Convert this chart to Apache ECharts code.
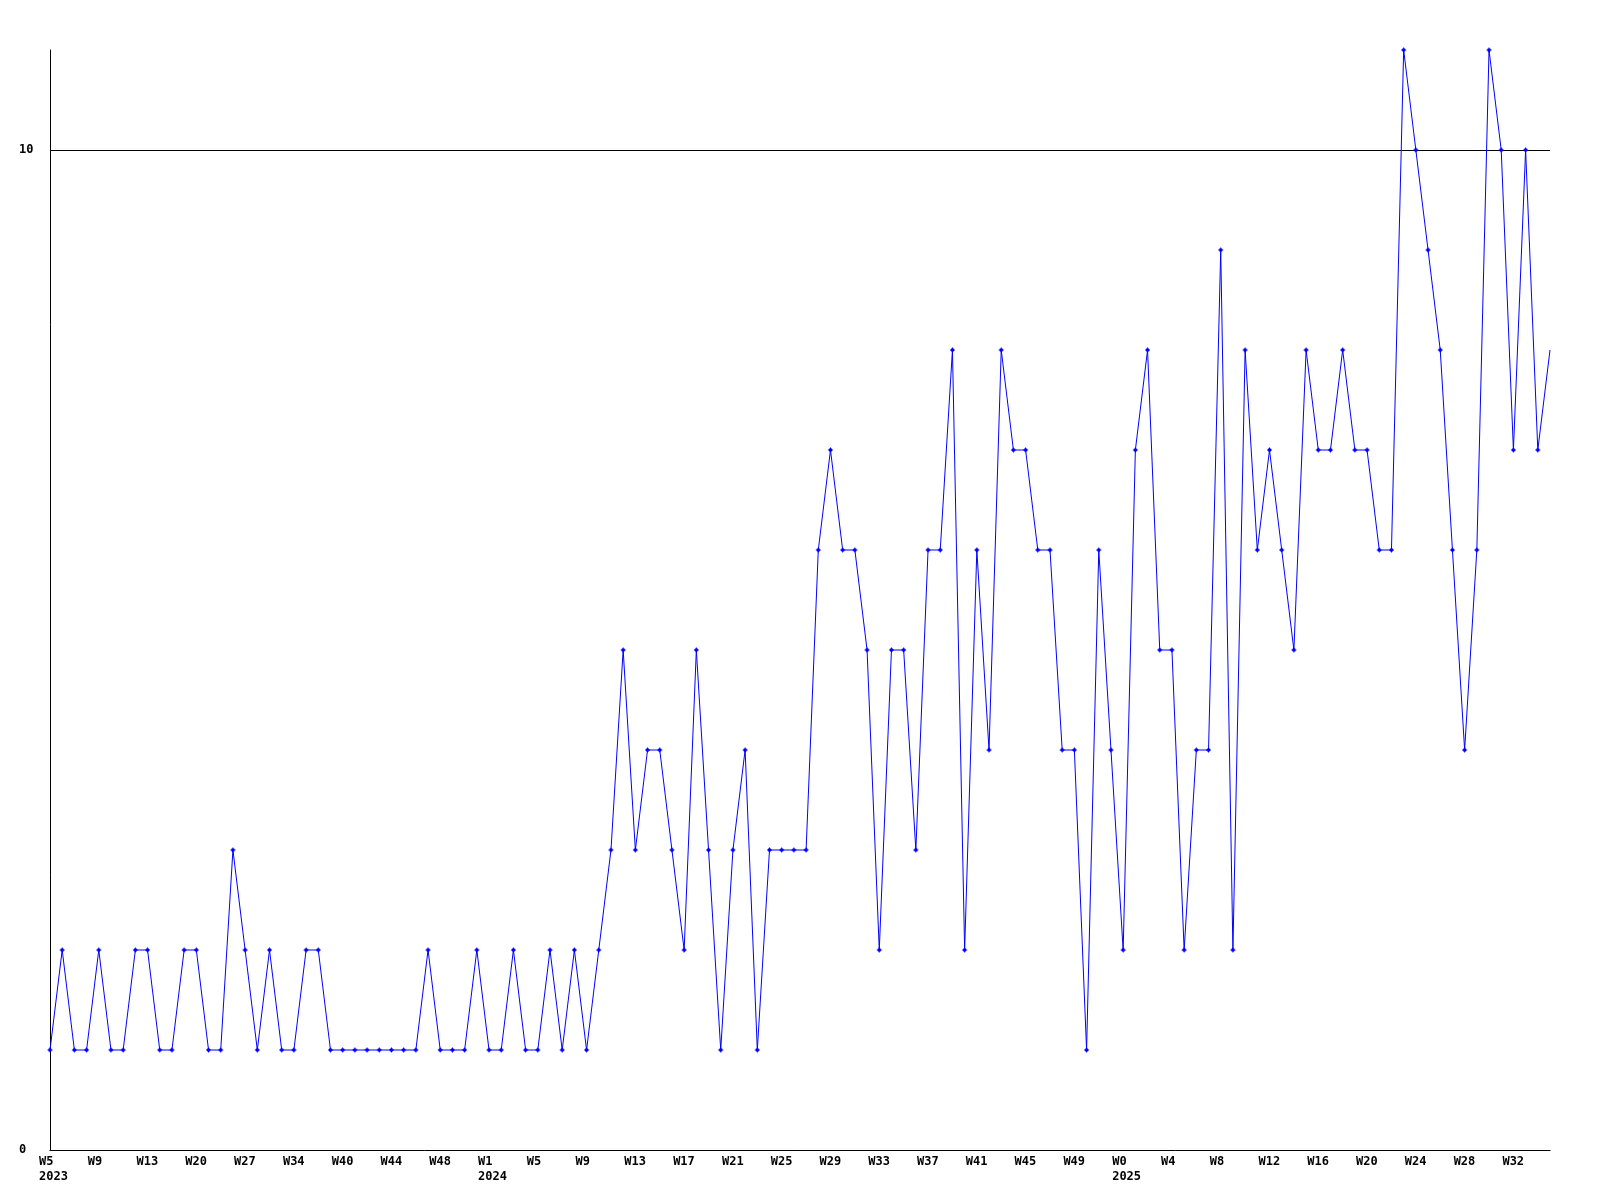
<!DOCTYPE html>
<html>
<head>
<meta charset="utf-8">
<script src="https://cdn.jsdelivr.net/npm/echarts@6/dist/echarts.min.js"></script>
<style>html,body{margin:0;padding:0;background:#fff;}#c{width:1600px;height:1200px;}</style>
</head>
<body>
<div id="c"></div>
<script>
const weeks = [
  'W5','W6','W7','W8','W9','W10','W11','W12','W13','W15','W17','W18','W20','W22','W24','W25',
  'W27','W29','W31','W32','W34','W36','W37','W39','W40','W41','W42','W43','W44','W45','W46','W47',
  'W48','W49','W50','W51',
  'W1','W2','W3','W4','W5','W6','W7','W8','W9','W10','W11','W12','W13','W14','W15','W16',
  'W17','W18','W19','W20','W21','W22','W23','W24','W25','W26','W27','W28','W29','W30','W31','W32',
  'W33','W34','W35','W36','W37','W38','W39','W40','W41','W42','W43','W44','W45','W46','W47','W48',
  'W49','W50','W51','W52',
  'W0','W1','W2','W3','W4','W5','W6','W7','W8','W9','W10','W11','W12','W13','W14','W15',
  'W16','W17','W18','W19','W20','W21','W22','W23','W24','W25','W26','W27','W28','W29','W30','W31',
  'W32','W33','W34','W35'
];
const yearIndex = [0, 36, 88];
const yearLabel = ['2023', '2024', '2025'];
const values = [
  1,2,1,1,2,1,1,2,2,1,
  1,2,2,1,1,3,2,1,2,1,
  1,2,2,1,1,1,1,1,1,1,
  1,2,1,1,1,2,1,1,2,1,
  1,2,1,2,1,2,3,5,3,4,
  4,3,2,5,3,1,3,4,1,3,
  3,3,3,6,7,6,6,5,2,5,
  5,3,6,6,8,2,6,4,8,7,
  7,6,6,4,4,1,6,4,2,7,
  8,5,5,2,4,4,9,2,8,6,
  7,6,5,8,7,7,8,7,7,6,
  6,11,10,9,8,6,4,6,11,10,
  7,10,7,8
];
const yTicks = [0, 10];

const keys = weeks.map((w, i) => i + '|' + w);
const plus = 'path://M2,0H3V1H4V2H5V3H4V4H3V5H2V4H1V3H0V2H1V1H2Z';
const font = '"DejaVu Sans Mono", monospace';

const chart = echarts.init(document.getElementById('c'), null, {renderer: 'canvas'});
chart.setOption({
  animation: false,
  backgroundColor: '#fff',
  grid: {left: 50, right: 50, top: 50, bottom: 50, containLabel: false},
  xAxis: {
    type: 'category',
    data: keys,
    boundaryGap: false,
    axisLine: {show: true, lineStyle: {color: '#000', width: 1}},
    axisTick: {show: false},
    splitLine: {show: false},
    axisLabel: {
      interval: 3,
      align: 'left',
      margin: 4,
      padding: [0, 0, 0, -11],
      color: '#000',
      fontFamily: font,
      fontWeight: 'bold',
      fontSize: 12,
      lineHeight: 15,
      formatter: (val, idx) => {
        const w = String(val).split('|')[1];
        const k = yearIndex.indexOf(idx);
        return k >= 0 ? w + '\n' + yearLabel[k] : w;
      }
    }
  },
  yAxis: {
    type: 'value',
    min: 0,
    max: 11,
    interval: 10,
    axisLine: {show: true, lineStyle: {color: '#000', width: 1}},
    axisTick: {show: false},
    splitLine: {show: false},
    axisLabel: {
      showMaxLabel: false,
      align: 'left',
      margin: 31,
      color: '#000',
      fontFamily: font,
      fontWeight: 'bold',
      fontSize: 12,
      formatter: v => (yTicks.indexOf(v) >= 0 ? String(v) : '')
    }
  },
  series: [{
    type: 'line',
    data: values,
    symbol: (v, p) => (p.dataIndex === values.length - 1 ? 'none' : plus),
    symbolSize: 5,
    showAllSymbol: true,
    lineStyle: {color: '#0000ff', width: 1},
    itemStyle: {color: '#0000ff'},
    z: 3,
    markLine: {
      silent: true,
      symbol: ['none', 'none'],
      label: {show: false},
      lineStyle: {color: '#000', width: 1, type: 'solid'},
      data: [{yAxis: yTicks[1]}],
      z: 1
    }
  }]
});
</script>
</body>
</html>
